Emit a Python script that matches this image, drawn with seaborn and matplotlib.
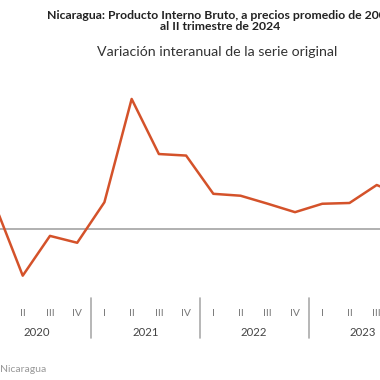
import matplotlib
matplotlib.use("Agg")
import matplotlib.pyplot as plt
import matplotlib.transforms as mtransforms
from matplotlib.lines import Line2D
import seaborn as sns
import pandas as pd

years = ["2020", "2021", "2022", "2023"]
quarters = ["I", "II", "III", "IV"]
variacion = [3.0, -6.1, -0.9, -1.8, 3.5, 17.0, 9.8, 9.6,
             4.6, 4.35, 3.3, 2.2, 3.3, 3.4, 5.75, 4.3]

title_text = "Nicaragua: Producto Interno Bruto, a precios promedio de 2006\nal II trimestre de 2024"
subtitle_text = "Variación interanual de la serie original"
source_text = "Fuente: Banco Central de Nicaragua"

sns.set_style("white")
plt.rcParams["font.family"] = ["Lato", "DejaVu Sans"]

W = H = 380
fig = plt.figure(figsize=(3.8, 3.8), dpi=100)
ax = fig.add_axes([0, (H - 290) / H, 1, 210 / H])

df = pd.DataFrame({
    "idx": list(range(len(variacion))),
    "val": variacion,
})

ax.axhline(0, color="#aaaaaa", lw=1.3, zorder=1)
sns.lineplot(data=df, x="idx", y="val", ax=ax, color="#D4522A", lw=1.8, zorder=3)

k = 7.65
x0, x1 = 4.5 / 27.23, 384.5 / 27.23
ax.set_xlim(x0, x1)
ax.set_ylim((229 - 290) / k, (229 - 80) / k)
for s in ax.spines.values():
    s.set_visible(False)
ax.set_xticks([])
ax.set_yticks([])
ax.set_xlabel("")
ax.set_ylabel("")

trans = mtransforms.blended_transform_factory(ax.transData, fig.transFigure)

def fy(px):
    return (H - px) / H

for yi, yr in enumerate(years):
    for qi, q in enumerate(quarters):
        i = yi * 4 + qi
        if i < x0:
            continue
        ax.text(i, fy(313), q, transform=trans, ha="center", va="center",
                fontsize=7.5, color="#777777", clip_on=False)
    ax.text(yi * 4 + 1.5, fy(332), yr, transform=trans, ha="center", va="center",
            fontsize=8.2, color="#444444", clip_on=False)
    if yi > 0:
        xs = yi * 4 - 0.5
        ax.add_line(Line2D([xs, xs], [fy(298), fy(338)], transform=trans,
                           color="#aaaaaa", lw=1.2, clip_on=False))

fig.text(220 / W, fy(21), title_text, ha="center", va="center", fontsize=8.8,
         fontweight="bold", color="#222222", linespacing=1.05)
fig.text(217.5 / W, fy(52), subtitle_text, ha="center", va="center",
         fontsize=10.2, color="#333333")
fig.text(46 / W, fy(369), source_text, ha="right", va="center",
         fontsize=7.5, color="#999999")

fig.savefig("out.png", dpi=100)
